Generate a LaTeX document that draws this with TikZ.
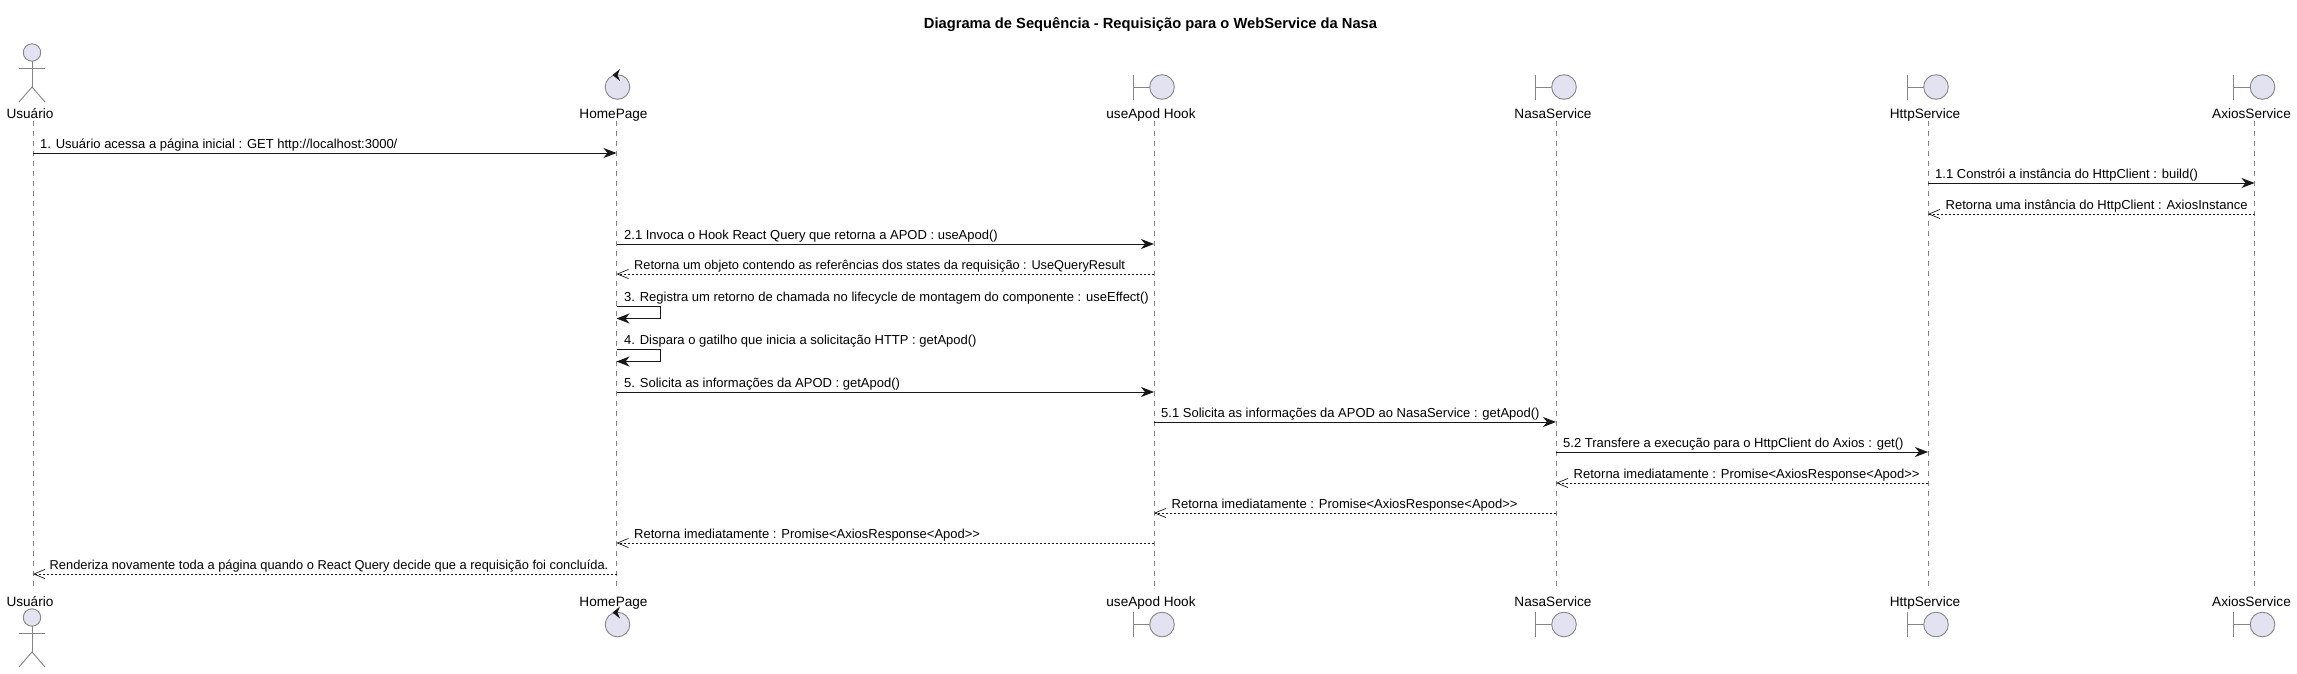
\documentclass[tikz,border=0pt]{standalone}
\usepackage{fontspec}
\setmainfont{Liberation Sans}
\usetikzlibrary{arrows.meta}
\definecolor{ink}{HTML}{181818}
\definecolor{soft}{HTML}{858585}
\definecolor{actorfill}{HTML}{E2E2F0}
\tikzset{
  lifeline/.style={draw=soft,line width=0.8pt,dash pattern=on 5pt off 5pt},
  icon/.style={draw=soft,line width=0.9pt,fill=actorfill},
  iconline/.style={draw=soft,line width=0.9pt},
  title/.style={font=\fontsize{14.7}{17}\selectfont\bfseries,inner sep=0pt,anchor=center},
  partlabel/.style={font=\fontsize{13.6}{16}\selectfont,inner sep=0pt,anchor=base,text=black},
  msglabel/.style={font=\fontsize{13}{15}\selectfont,inner sep=0pt,anchor=base west,text=black},
  call/.style={draw=ink,line width=1pt,-{Stealth[length=13pt,width=10pt,inset=4pt]}},
  reply/.style={draw=ink,line width=0.8pt,dash pattern=on 2pt off 2pt,-{Straight Barb[length=11pt,width=10pt,line width=0.7pt,angle'=45]}},
}
\def\xU{33}\def\xH{616.5}\def\xA{1154}\def\xN{1556}\def\xT{1928}\def\xX{2254.5}
\newcommand\partic[3]{%
  \coordinate (#1top) at (#2,121);
  \coordinate (#1bot) at (#2,590);
  \draw[lifeline] (#1top) -- (#1bot);
  \node[partlabel] (#1T) at (#2-3,118) {#3};
  \node[partlabel] (#1B) at (#2-3,606) {#3};
}
\newcommand\boundaryicon[2]{%
  \draw[iconline] (#1-21,#2-12.5) -- (#1-21,#2+12.5);
  \draw[iconline] (#1-21,#2) -- (#1-4,#2);
  \draw[icon] (#1+8,#2) circle (12.3);
}
\newcommand\actoricon[2]{%
  \draw[icon] (#1-1,#2+8.5) circle (8.7);
  \draw[iconline] (#1-1,#2+17.2) -- (#1-1,#2+43);
  \draw[iconline] (#1-14,#2+24) -- (#1+12,#2+24);
  \draw[iconline] (#1-14,#2+58) -- (#1-1,#2+43) -- (#1+12,#2+58);
}
\newcommand\controlicon[2]{%
  \draw[icon] (#1+1,#2) circle (12.3);
  \fill[ink] (#1-4,#2-12) -- (#1+3.5,#2-18) -- (#1+1,#2-12) -- (#1+3.5,#2-6) -- cycle;
}
\newcommand\msg[7]{%
  \coordinate (#1a) at (#3,#5);
  \coordinate (#1b) at (#4,#5);
  \draw[#2] (#1a) -- (#1b);
  \node[msglabel] (#1L) at (#6,#5-4.5) {#7};
}
\newcommand\selfmsg[3]{%
  \coordinate (#1a) at (\xH,#2);
  \coordinate (#1c) at (\xH+43.5,#2);
  \coordinate (#1d) at (\xH+43.5,#2+12.5);
  \coordinate (#1b) at (\xH,#2+12.5);
  \draw[call] (#1a) -- (#1c) -- (#1d) -- (#1b);
  \node[msglabel] (#1L) at (\xH+7.5,#2-4.5) {#3};
}
\begin{document}
\begin{tikzpicture}[x=1pt,y=-1pt]
\useasboundingbox[fill=white] (0,0) rectangle (2297,673);
\node[title] (title) at (1150.5,25) {Diagrama de Sequência - Requisição para o WebService da Nasa};

\partic{u}{\xU}{Usuário}
\partic{h}{\xH}{HomePage}
\partic{a}{\xA}{useApod Hook}
\partic{n}{\xN}{NasaService}
\partic{t}{\xT}{HttpService}
\partic{x}{\xX}{AxiosService}

\actoricon{\xU}{44}
\actoricon{\xU}{609}
\controlicon{\xH}{87}
\controlicon{\xH}{624.5}
\boundaryicon{\xA}{87}
\boundaryicon{\xN}{87}
\boundaryicon{\xT}{87}
\boundaryicon{\xX}{87}
\boundaryicon{\xA}{624.5}
\boundaryicon{\xN}{624.5}
\boundaryicon{\xT}{624.5}
\boundaryicon{\xX}{624.5}

\msg{m1}{call}{\xU}{\xH}{153}{\xU+7}{1. Usuário acessa a página inicial : GET http://localhost:3000/}
\msg{m2}{call}{\xT}{\xX}{183}{\xT+7}{1.1 Constrói a instância do HttpClient : build()}
\msg{m3}{reply}{\xX}{\xT}{214}{\xT+17.5}{Retorna uma instância do HttpClient : AxiosInstance}
\msg{m4}{call}{\xH}{\xA}{244}{\xH+7.5}{2.1 Invoca o Hook React Query que retorna a APOD : useApod()}
\msg{m5}{reply}{\xA}{\xH}{274}{\xH+17.5}{\fontsize{12.75}{15}\selectfont Retorna um objeto contendo as referências dos states da requisição : UseQueryResult}
\selfmsg{m6}{306}{3. Registra um retorno de chamada no lifecycle de montagem do componente : useEffect()}
\selfmsg{m7}{349}{4. Dispara o gatilho que inicia a solicitação HTTP : getApod()}
\msg{m8}{call}{\xH}{\xA}{392}{\xH+7.5}{5. Solicita as informações da APOD : getApod()}
\msg{m9}{call}{\xA}{\xN}{422}{\xA+7}{5.1 Solicita as informações da APOD ao NasaService : getApod()}
\msg{m10}{call}{\xN}{\xT}{452}{\xN+7}{5.2 Transfere a execução para o HttpClient do Axios : get()}
\msg{m11}{reply}{\xT}{\xN}{483}{\xN+17.5}{Retorna imediatamente : Promise<AxiosResponse<Apod>{}>}
\msg{m12}{reply}{\xN}{\xA}{513}{\xA+17.5}{Retorna imediatamente : Promise<AxiosResponse<Apod>{}>}
\msg{m13}{reply}{\xA}{\xH}{543}{\xH+17.5}{Retorna imediatamente : Promise<AxiosResponse<Apod>{}>}
\msg{m14}{reply}{\xH}{\xU}{574}{\xU+16.5}{\fontsize{12.85}{15}\selectfont Renderiza novamente toda a página quando o React Query decide que a requisição foi concluída.}
\end{tikzpicture}
\end{document}
